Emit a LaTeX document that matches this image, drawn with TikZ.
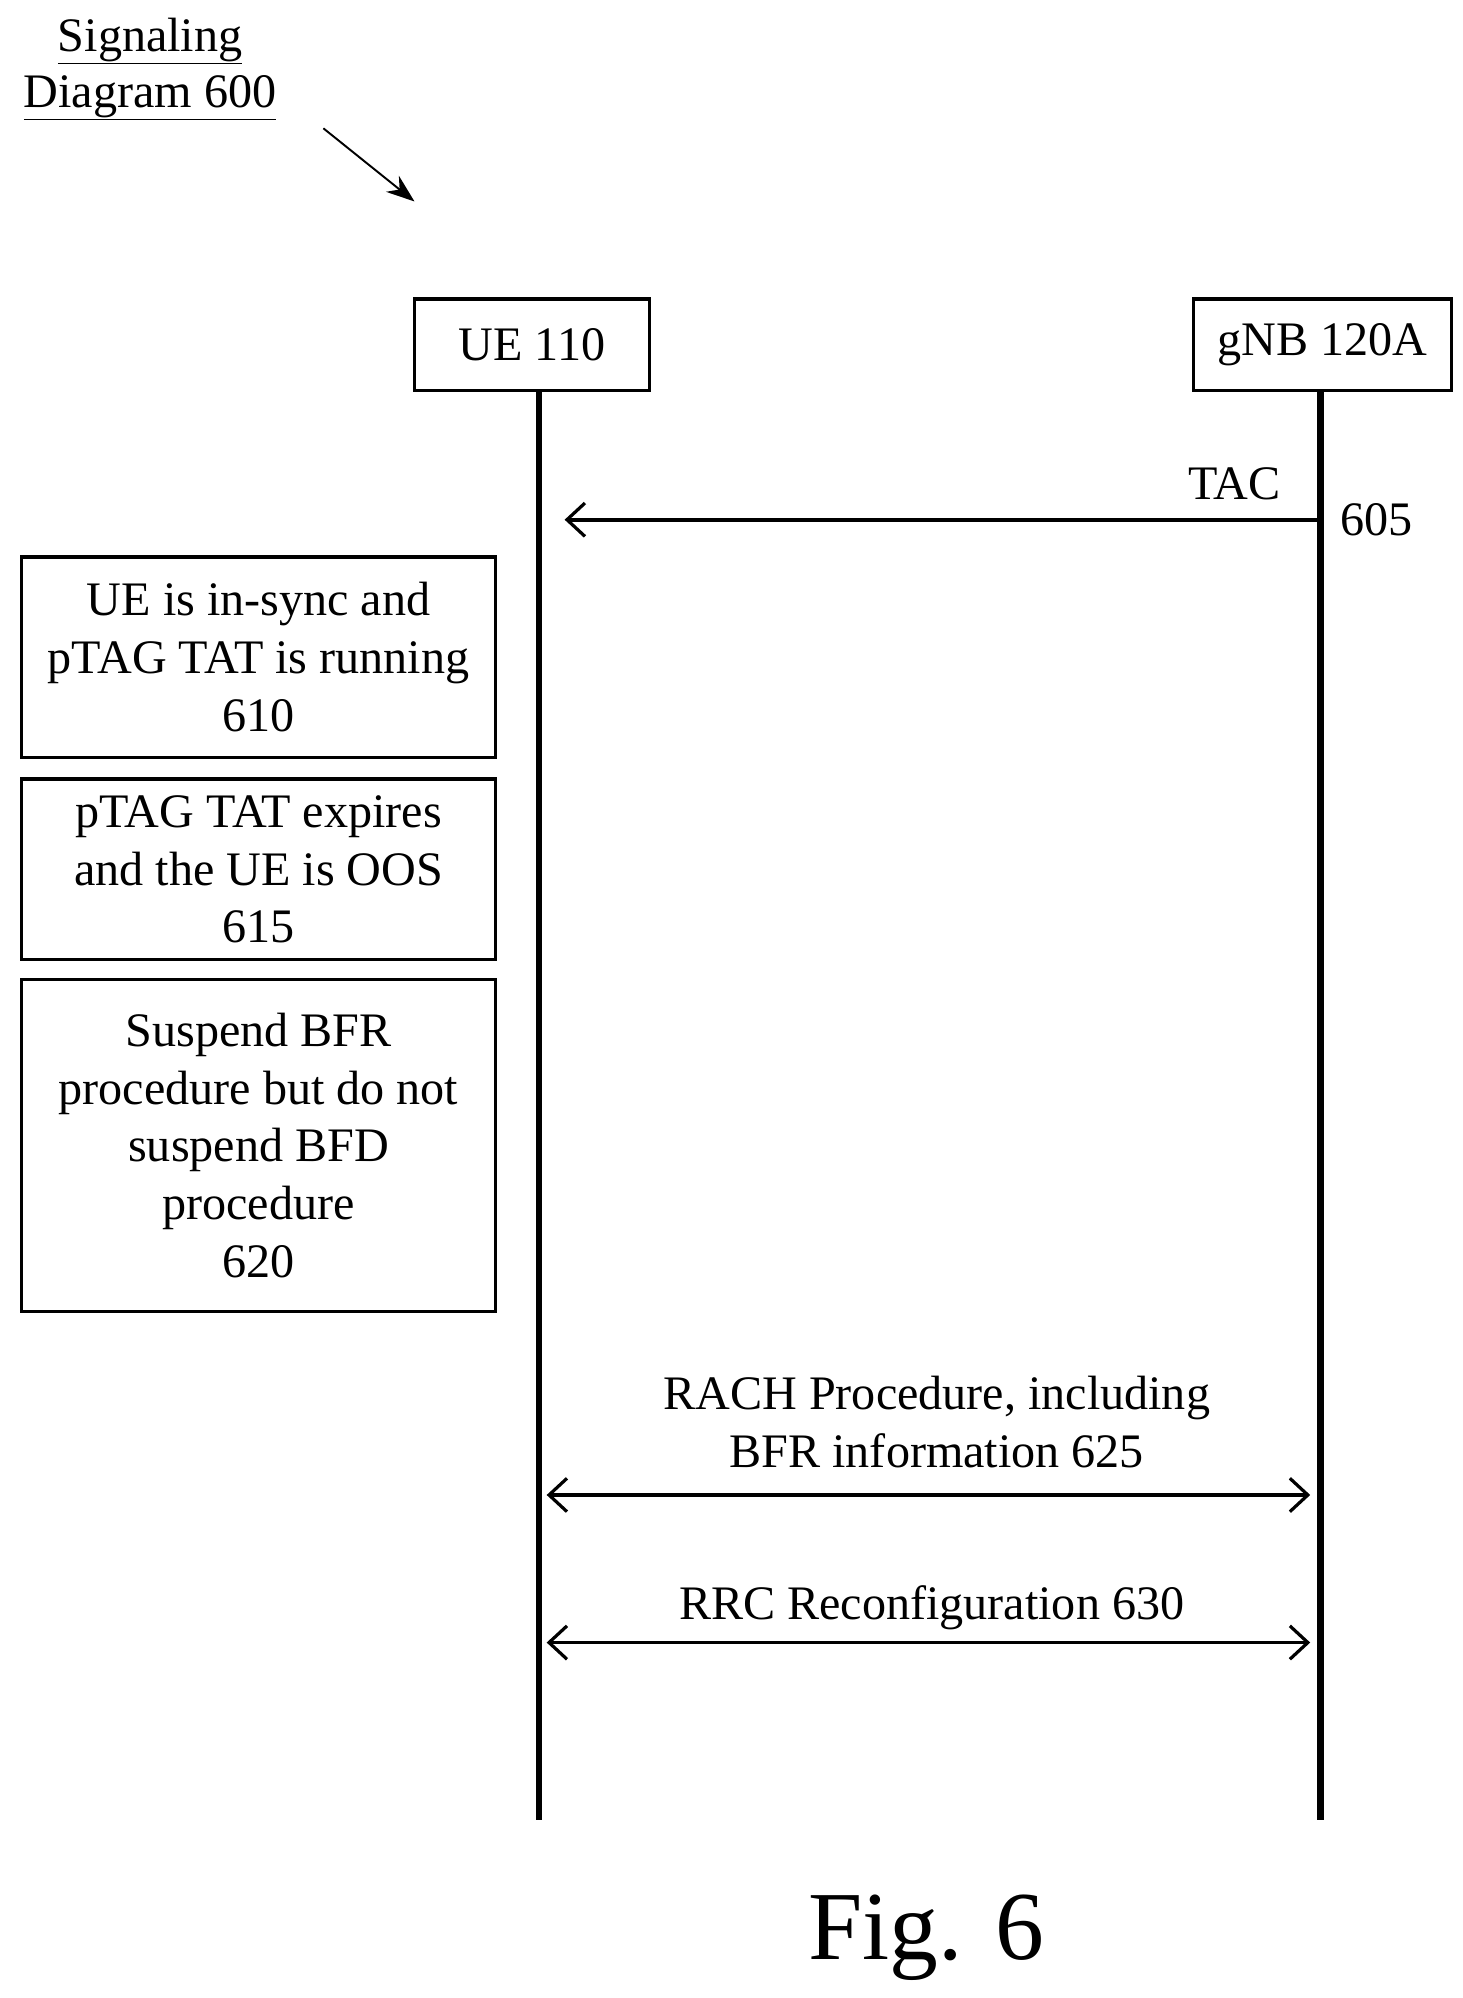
\documentclass[tikz,border=0pt]{standalone}
\usepackage{fontspec}
\setmainfont{Liberation Serif}
\usetikzlibrary{arrows.meta}
\begin{document}
\begin{tikzpicture}[x=1pt,y=-1pt,
  txt/.style={font=\fontsize{37.5}{45}\selectfont,align=center},
  life/.style={line width=5pt},
  msg/.style={line width=3pt,-{Straight Barb[length=14pt,width=26pt,line width=2.5pt]}},
  msg2/.style={line width=3pt,{Straight Barb[length=14pt,width=26pt,line width=2.5pt]}-{Straight Barb[length=14pt,width=26pt,line width=2.5pt]}}]
\useasboundingbox (0,0) rectangle (1140,1557);
\node[txt] (t1) at (117,32) {\underline{Signaling}};
\node[txt] (t2) at (117,76) {\underline{Diagram 600}};
\coordinate (a0) at (252,100); \coordinate (a1) at (323,157);
\draw[line width=1.5pt,-{Stealth[length=22pt,width=16pt]}] (a0) -- (a1);
\node[draw,line width=2.5pt,txt,minimum width=183pt,minimum height=71pt] (ue) at (414.5,268.5) {UE 110};
\node[draw,line width=2.5pt,txt,minimum width=201pt,minimum height=71pt] (gnb) at (1030.5,268.5) {gNB 120A};
\coordinate (uet) at (420,304); \coordinate (ueb) at (420,1418);
\coordinate (gt) at (1029,304); \coordinate (gb) at (1029,1418);
\draw[life] (uet) -- (ueb);
\draw[life] (gt) -- (gb);
\coordinate (tacs) at (1029,405); \coordinate (tace) at (440,405);
\draw[msg] (tacs) -- (tace);
\node[txt] (tac) at (962,377) {TAC};
\node[txt] (n605) at (1073,405) {605};
\node[draw,line width=2.5pt,txt,minimum width=369pt,minimum height=156pt] (b610) at (201.5,512) {UE is in-sync and\\pTAG TAT is running\\610};
\node[draw,line width=2.5pt,txt,minimum width=369pt,minimum height=141pt] (b615) at (201.5,677.5) {pTAG TAT expires\\and the UE is OOS\\615};
\node[draw,line width=2.5pt,txt,minimum width=369pt,minimum height=259pt] (b620) at (201.5,892.5) {Suspend BFR\\procedure but do not\\suspend BFD\\procedure\\620};
\node[txt] (rach) at (730,1108) {RACH Procedure, including\\BFR information 625};
\coordinate (r1a) at (426,1165); \coordinate (r1b) at (1021,1165);
\draw[msg2] (r1a) -- (r1b);
\node[txt] (rrc) at (726,1253) {RRC Reconfiguration 630};
\coordinate (r2a) at (426,1280); \coordinate (r2b) at (1021,1280);
\draw[msg2] (r2a) -- (r2b);
\node[font=\fontsize{76}{90}\selectfont] (fig) at (722,1510) {Fig. 6};
\end{tikzpicture}
\end{document}
